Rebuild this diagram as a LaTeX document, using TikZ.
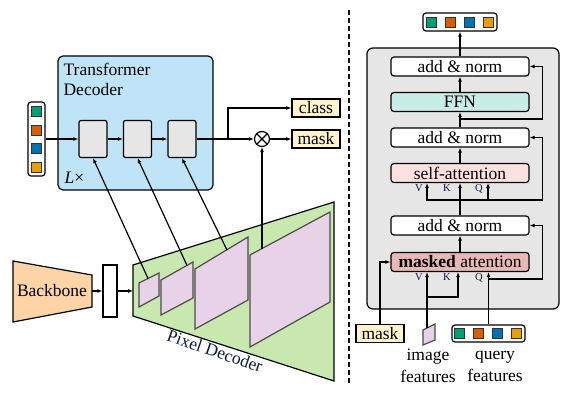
\documentclass[tikz,border=0pt]{standalone}
\usepackage{fontspec}
\setmainfont{Liberation Serif}
\usetikzlibrary{arrows.meta}

\definecolor{tdblue}{RGB}{192,228,247}
\definecolor{pdgreen}{RGB}{200,232,176}
\definecolor{featpink}{RGB}{232,210,232}
\definecolor{bbone}{RGB}{252,212,166}
\definecolor{lblyellow}{RGB}{255,242,204}
\definecolor{ffnteal}{RGB}{200,236,232}
\definecolor{sapink}{RGB}{253,225,225}
\definecolor{mared}{RGB}{231,185,182}
\definecolor{laygray}{RGB}{230,230,230}
\definecolor{qgreen}{RGB}{0,158,115}
\definecolor{qorange}{RGB}{213,94,0}
\definecolor{qblue}{RGB}{0,114,178}
\definecolor{qyellow}{RGB}{230,159,0}
\definecolor{pdnavy}{RGB}{15,25,60}

\tikzset{
  blk/.style={draw, line width=1.2pt, fill=laygray, rounded corners=2pt, minimum width=28pt, minimum height=37pt, inner sep=0pt},
  outlbl/.style={draw, line width=1.2pt, fill=lblyellow, minimum width=48pt, minimum height=18pt, inner sep=0pt},
  tflayer/.style={draw, line width=1.2pt, rounded corners=3pt, minimum width=138pt, minimum height=19pt, inner sep=0pt, fill=#1},
  tflayer/.default=white,
  tok/.style={draw=black!80, line width=0.8pt, fill=#1, minimum size=10pt, inner sep=0pt},
  tokbox/.style={draw, line width=1.2pt, rounded corners=3pt, fill=white, inner sep=0pt},
  feat/.style={draw=black!70, line width=1.2pt, fill=featpink},
  vkq/.style={font=\fontsize{10.5}{11}\selectfont, text=pdnavy, inner sep=0pt},
}

\begin{document}
\begin{tikzpicture}[x=1pt, y=-1pt, line width=1.2pt, >={Latex[length=5pt,width=4pt]}, font=\fontsize{17.5}{20}\selectfont]
  \useasboundingbox (0,0) rectangle (578,404);

  % Transformer decoder
  \node[draw, line width=1.2pt, fill=tdblue, rounded corners=5pt, minimum width=155pt, minimum height=134pt] (tdec) at (135.5,123) {};
  \node[anchor=north west, align=left, inner sep=0pt] (tdname) at (63,63) {Transformer\\Decoder};
  \node[anchor=west, inner sep=0pt] (reps) at (64,178) {\textit{L}×};
  \foreach \i in {1,2,3} \node[blk] (blk\i) at (48.5+44.5*\i,139) {};

  % queries in
  \node[tokbox, minimum width=17pt, minimum height=74pt] (qin) at (36.5,139) {};
  \foreach \c [count=\i] in {qgreen,qorange,qblue,qyellow} \node[tok=\c] (qin\i) at (36.5,93+18.5*\i) {};
  \draw[->] (qin) -- (blk1);
  \draw[->] (blk1) -- (blk2);
  \draw[->] (blk2) -- (blk3);

  % outputs
  \node[draw, circle, line width=1.2pt, minimum size=15pt, inner sep=0pt] (prod) at (262,139) {};
  \draw (prod.north west) -- (prod.south east) (prod.north east) -- (prod.south west);
  \node[outlbl] (cls) at (316,108) {class};
  \node[outlbl] (msk) at (316,139) {mask};
  \coordinate (split) at (228,139);
  \draw[->] (blk3) -- (prod);
  \draw[->] (split) |- (cls);
  \draw[->] (prod) -- (msk);

  % Pixel decoder
  \draw[fill=pdgreen] (133,265) -- (334,202) -- (334,381) -- (133,316) -- cycle;
  \draw[feat] (139,283) -- (159,273) -- (159,296) -- (139,307) -- cycle;
  \draw[feat] (161,280) -- (193,262) -- (193,298) -- (161,315) -- cycle;
  \draw[feat] (195,269) -- (248,237) -- (248,300) -- (195,329) -- cycle;
  \draw[feat] (250,255) -- (330,212) -- (330,302) -- (250,347) -- cycle;
  \node[text=pdnavy, rotate=-19] (pdname) at (215,351) {Pixel Decoder};
  \coordinate (f1) at (148,278.5);
  \coordinate (f2) at (187,265.5);
  \coordinate (f3) at (227,250);
  \coordinate (f4) at (262,248.5);
  \draw[->] (f1) -- (blk1.south);
  \draw[->] (f2) -- (blk2.south);
  \draw[->] (f3) -- (blk3.south);
  \draw[->] (f4) -- (prod);

  % Backbone
  \draw[fill=bbone] (13,261) -- (92,275) -- (92,307) -- (13,322) -- cycle;
  \node (bbname) at (52,291) {Backbone};
  \coordinate (bbout) at (92,291);
  \node[draw, fill=white, minimum width=14pt, minimum height=52pt, inner sep=0pt] (neck) at (110,291) {};
  \coordinate (pdin) at (133,291);
  \draw[->] (bbout) -- (neck);
  \draw[->] (neck) -- (pdin);

  % separator
  \draw[line width=1.5pt, dash pattern=on 5pt off 3pt] (349,10) -- (349,383);

  % decoder layer
  \node[draw, fill=laygray, rounded corners=6pt, minimum width=192pt, minimum height=261pt] (dlayer) at (463,178.5) {};
  \node[tflayer] (an1) at (460,66.5) {add \& norm};
  \node[tflayer=ffnteal] (ffn) at (460,102) {FFN};
  \node[tflayer] (an2) at (460,137.5) {add \& norm};
  \node[tflayer=sapink] (sa) at (460,173) {self-attention};
  \node[tflayer] (an3) at (460,225.5) {add \& norm};
  \node[tflayer=mared] (ma) at (460,262) {\textbf{masked} attention};
  \foreach \l/\x in {V/419,K/447,Q/479} {
    \node[vkq] (sa\l) at (\x,188.5) {\l};
    \node[vkq] (ma\l) at (\x,277.5) {\l};
  }

  \node[tokbox, minimum width=74pt, minimum height=18pt] (qout) at (460,22) {};
  \foreach \c [count=\i] in {qgreen,qorange,qblue,qyellow} \node[tok=\c] (qout\i) at (413+18.75*\i,22) {};

  % layer inputs
  \node[outlbl] (mkin) at (380,333.5) {mask};
  \draw[feat] (423,330) -- (435,324) -- (435,340) -- (423,345) -- cycle;
  \coordinate (imgin) at (427,328);
  \node[tokbox, minimum width=73pt, minimum height=17pt] (qf) at (488.5,333.5) {};
  \foreach \c [count=\i] in {qgreen,qorange,qblue,qyellow} \node[tok=\c] (qf\i) at (441+18.75*\i,333.5) {};
  \node[align=center, font=\fontsize{17.5}{22}\selectfont] (imglbl) at (428,366) {image\\features};
  \node[align=center, font=\fontsize{17.5}{22}\selectfont] (qlbl) at (495,366) {query\\features};

  % layer connections
  \draw[->] (an1) -- (qout);
  \draw[->] (ffn) -- (an1);
  \draw[->] (an2) -- (ffn);
  \coordinate (res1) at (460,119);
  \draw[->] (res1) -| ([xshift=13pt]an1.east) -- (an1.east);
  \draw[->] (sa) -- (an2);
  \draw[->] (an3) -- (sa);
  \coordinate (res2) at (460,200);
  \draw[->] (res2) -| ([xshift=-33pt]sa.south);
  \draw[->] (res2) -| ([xshift=28pt]sa.south);
  \draw[->] (res2) -| ([xshift=13pt]an2.east) -- (an2.east);
  \draw[->] (ma) -- (an3);
  \coordinate (res3) at (427,297);
  \draw[->] (imgin) -- ([xshift=-33pt]ma.south);
  \draw[->] (res3) -| ([xshift=-2pt]ma.south);
  \draw[->] (qf.north) -- (qf.north |- ma.south);
  \coordinate (res4) at (488.5,279);
  \draw[->] (res4) -| ([xshift=13pt]an3.east) -- (an3.east);
  \draw[->] (mkin.north) |- (ma.west);
\end{tikzpicture}
\end{document}
